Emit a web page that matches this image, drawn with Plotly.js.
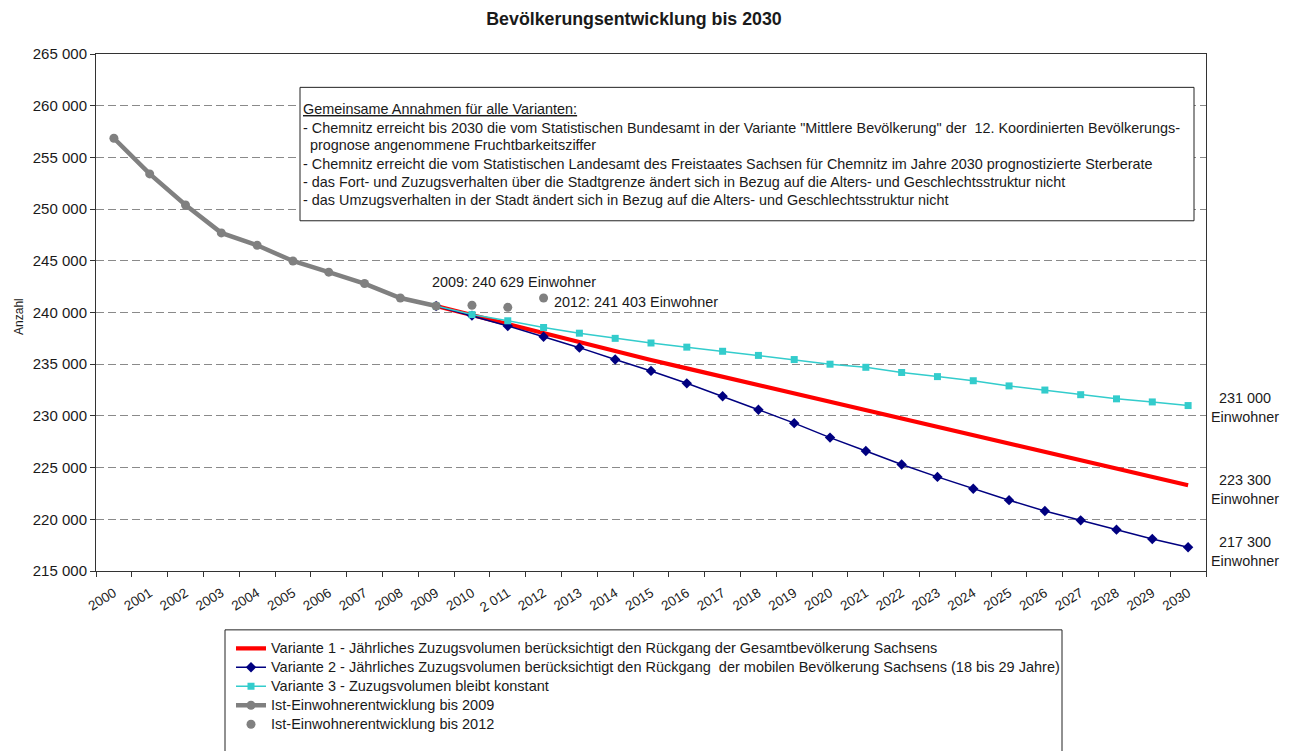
<!DOCTYPE html>
<html>
<head>
<meta charset="utf-8">
<script src="https://cdn.plot.ly/plotly-3.0.1.min.js"></script>
<style>html,body{margin:0;padding:0;background:#fff;}#chart{width:1294px;height:751px;}</style>
</head>
<body>
<div id="chart"></div>
<script>
// ---- data ----
const years = ['2000','2001','2002','2003','2004','2005','2006','2007','2008','2009','2010',
  '2011','2012','2013','2014','2015','2016','2017','2018','2019','2020',
  '2021','2022','2023','2024','2025','2026','2027','2028','2029','2030'];
const tickLabels = ['2000','2001','2002','2003','2004','2005','2006','2007','2008','2009','2010',
  '2 011','2012','2013','2014','2015','2016','2017','2018','2019','2020',
  '2021','2022','2023','2024','2025','2026','2027','2028','2029','2030'];

const istYears = years.slice(0, 10);              // 2000-2009
const istValues = [256850, 253400, 250400, 247700, 246500, 244980, 243900, 242800, 241400, 240629];

const ist2012Years = ['2010', '2011', '2012'];
const ist2012Values = [240700, 240500, 241403];

const variantYears = years.slice(9);              // 2009-2030
const variante1 = [240629, 239750, 238850, 237950, 237100, 236250, 235400, 234600, 233800, 233000, 232200,
  231400, 230600, 229800, 229000, 228200, 227400, 226580, 225760, 224940, 224120, 223300];
const variante2 = [240629, 239700, 238700, 237650, 236600, 235450, 234350, 233150, 231900, 230600, 229300,
  227900, 226600, 225300, 224100, 222950, 221850, 220800, 219900, 219000, 218100, 217300];
const variante3 = [240629, 239800, 239200, 238550, 238000, 237500, 237050, 236650, 236250, 235850, 235450,
  235000, 234700, 234200, 233800, 233400, 232900, 232500, 232050, 231650, 231350, 231000];

const seriesNames = [
  'Variante 1 - Jährliches Zuzugsvolumen berücksichtigt den Rückgang der Gesamtbevölkerung Sachsens',
  'Variante 2 - Jährliches Zuzugsvolumen berücksichtigt den Rückgang\u00A0 der mobilen Bevölkerung Sachsens (18 bis 29 Jahre)',
  'Variante 3 - Zuzugsvolumen bleibt konstant',
  'Ist-Einwohnerentwicklung bis 2009',
  'Ist-Einwohnerentwicklung bis 2012'
];

const boxLines = [
  '<u>Gemeinsame Annahmen für alle Varianten:</u>',
  '- Chemnitz erreicht bis 2030 die vom Statistischen Bundesamt in der Variante "Mittlere Bevölkerung" der\u00A0 12. Koordinierten Bevölkerungs-',
  'prognose angenommene Fruchtbarkeitsziffer',
  '- Chemnitz erreicht die vom Statistischen Landesamt des Freistaates Sachsen für Chemnitz im Jahre 2030 prognostizierte Sterberate',
  '- das Fort- und Zuzugsverhalten über die Stadtgrenze ändert sich in Bezug auf die Alters- und Geschlechtsstruktur nicht',
  '- das Umzugsverhalten in der Stadt ändert sich in Bezug auf die Alters- und Geschlechtsstruktur nicht'
];

const endLabels = ['231 000<br>Einwohner', '223 300<br>Einwohner', '217 300<br>Einwohner'];

// ---- geometry helpers (pixel -> paper) ----
const L = 96, R = 1206, T = 54, B = 581;
const px = x => (x - L) / (R - L);
const py = y => (B - y) / (B - T);

const FONT = 'Liberation Sans, Arial, sans-serif';
const TXT = '#1a1a1a';
const TS = 14.4;
const lg = s => '<span style="font-size:14.5px">' + s + '</span>';

const traces = [
  { x: variantYears, y: variante1, name: lg(seriesNames[0]), mode: 'lines',
    line: { color: '#ff0000', width: 4.2 } },
  { x: variantYears, y: variante2, name: lg(seriesNames[1]), mode: 'lines+markers',
    line: { color: '#000080', width: 1.5 }, marker: { symbol: 'diamond', size: 8, color: '#000080' } },
  { x: variantYears, y: variante3, name: lg(seriesNames[2]), mode: 'lines+markers',
    line: { color: '#33cccc', width: 1.5 }, marker: { symbol: 'square', size: 7, color: '#33cccc' } },
  { x: istYears, y: istValues, name: lg(seriesNames[3]), mode: 'lines+markers',
    line: { color: '#808080', width: 4.5 }, marker: { symbol: 'circle', size: 9, color: '#808080' } },
  { x: ist2012Years, y: ist2012Values, name: lg(seriesNames[4]), mode: 'markers',
    marker: { symbol: 'circle', size: 9, color: '#808080' } }
];

const annotations = [];
const lineY = [110, 129, 147, 166, 184, 203];
boxLines.forEach((t, i) => {
  annotations.push({ xref: 'paper', yref: 'paper', x: px(i === 2 ? 308 : 301), y: py(lineY[i]),
    xanchor: 'left', yanchor: 'middle', text: t, showarrow: false,
    font: { family: FONT, size: TS, color: TXT } });
});
annotations.push({ xref: 'paper', yref: 'paper', x: px(430), y: py(286), xanchor: 'left', yanchor: 'middle',
  text: '2009: 240 629 Einwohner', showarrow: false, font: { family: FONT, size: TS, color: TXT } });
annotations.push({ xref: 'paper', yref: 'paper', x: px(552), y: py(306.5), xanchor: 'left', yanchor: 'middle',
  text: '2012: 241 403 Einwohner', showarrow: false, font: { family: FONT, size: TS, color: TXT } });
const endY = [414.5, 497.5, 561.5];
endLabels.forEach((t, i) => {
  annotations.push({ xref: 'paper', yref: 'paper', x: px(1245), y: py(endY[i]), xanchor: 'center', yanchor: 'middle',
    text: t, showarrow: false, align: 'center', font: { family: FONT, size: TS, color: TXT } });
});
annotations.push({ xref: 'paper', yref: 'paper', x: px(19), y: py(322), xanchor: 'center', yanchor: 'middle',
  text: 'Anzahl', textangle: -90, showarrow: false, font: { family: FONT, size: 12, color: TXT } });

const layout = {
  width: 1294, height: 751,
  margin: { l: L, r: 1294 - R, t: T, b: 751 - B },
  paper_bgcolor: '#ffffff', plot_bgcolor: '#ffffff',
  separators: ', ',
  font: { family: FONT, size: 14, color: TXT },
  title: { text: '<b>Bevölkerungsentwicklung bis 2030</b>', font: { family: FONT, size: 17.8, color: TXT },
    xref: 'container', yref: 'container', x: 634 / 1294, y: 1 - 19 / 751, xanchor: 'center', yanchor: 'middle' },
  xaxis: {
    type: 'category', categoryorder: 'array', categoryarray: years,
    tickvals: years, ticktext: tickLabels, tickangle: -32, ticklabelstandoff: 8,
    tickson: 'boundaries', ticks: 'outside', ticklen: 5, tickcolor: '#333', tickwidth: 1,
    showline: true, linecolor: '#333', linewidth: 1, mirror: true,
    showgrid: false, zeroline: false, range: [-0.5, 30.5],
    tickfont: { family: FONT, size: 13.5, color: TXT }
  },
  yaxis: {
    range: [215000, 265000], dtick: 5000, tick0: 215000, tickformat: ',d',
    ticks: 'outside', ticklen: 5, tickcolor: '#333', tickwidth: 1,
    showline: true, linecolor: '#333', linewidth: 1, mirror: true,
    showgrid: true, gridcolor: '#8a8a8a', gridwidth: 1, griddash: '8px,4px', zeroline: false,
    tickfont: { family: FONT, size: 15, color: TXT }
  },
  showlegend: true,
  legend: {
    x: px(231), y: py(645), xanchor: 'left', yanchor: 'top', xref: 'paper', yref: 'paper',
    bgcolor: 'rgba(0,0,0,0)', borderwidth: 0, font: { family: FONT, size: 12, color: TXT },
    traceorder: 'normal', itemclick: false
  },
  shapes: [
    { type: 'rect', xref: 'paper', yref: 'paper', x0: px(300), x1: px(1194), y0: py(224), y1: py(88),
      line: { color: '#222', width: 1 }, fillcolor: '#ffffff', layer: 'above' },
    { type: 'rect', xref: 'paper', yref: 'paper', x0: px(225), x1: px(1062), y0: py(770), y1: py(641),
      line: { color: '#222', width: 1 }, fillcolor: 'rgba(0,0,0,0)', layer: 'above' }
  ],
  annotations: annotations
};

Plotly.newPlot('chart', traces, layout, { displayModeBar: false, staticPlot: true });
</script>
</body>
</html>
